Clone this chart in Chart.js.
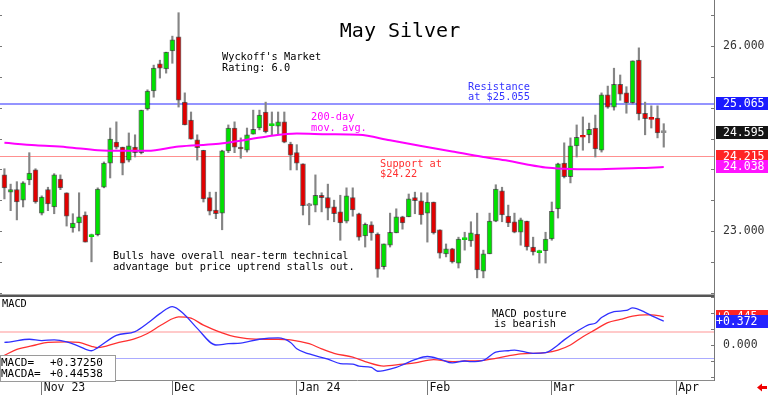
<!DOCTYPE html>
<html><head><meta charset="utf-8">
<script src="https://cdn.jsdelivr.net/npm/chart.js@4/dist/chart.umd.min.js"></script>
<style>html,body{margin:0;padding:0;background:#fff;overflow:hidden}</style>
</head><body>
<canvas id="c" width="768" height="395"></canvas>
<script>
// ---- data ----
const opens  = [23.91,23.63,23.67,23.50,23.83,23.99,23.29,23.67,23.39,23.84,23.62,23.05,23.13,23.26,22.91,22.94,23.71,24.10,24.44,24.36,
24.15,24.36,24.27,24.98,25.27,25.71,25.63,25.92,26.15,25.09,24.80,24.48,24.31,23.54,23.34,23.29,24.30,24.67,24.36,24.31,
24.57,24.67,24.93,24.71,24.70,24.77,24.41,24.27,24.09,23.41,23.42,23.58,23.54,23.39,23.31,23.16,23.54,23.28,22.92,23.10,
22.95,22.42,22.77,22.97,23.23,23.23,23.54,23.49,23.29,23.47,23.02,22.63,22.71,22.48,22.86,22.84,22.95,22.35,22.63,23.16,
23.65,23.24,23.15,22.98,23.16,22.74,22.65,22.68,22.87,23.36,24.10,23.88,24.38,24.54,24.56,24.67,24.31,25.21,25.01,25.38,
25.24,25.08,25.77,24.91,24.83,24.83,24.595];
const highs  = [24.01,23.76,23.80,23.80,24.27,24.01,23.57,23.71,23.93,23.91,23.62,23.28,23.62,23.31,22.95,23.70,24.12,24.67,24.77,24.36,
24.59,24.56,24.96,25.29,25.69,25.77,25.90,26.16,26.54,25.24,24.93,24.56,24.31,23.63,23.63,24.31,24.72,24.77,24.51,24.67,
24.96,24.96,25.09,24.93,24.93,24.93,24.44,24.40,24.09,23.45,23.91,23.62,23.76,23.50,23.58,23.70,23.70,23.29,23.13,23.15,
22.97,22.79,23.29,23.36,23.24,23.60,23.63,23.62,23.62,23.47,23.02,22.79,22.72,22.90,22.98,23.15,23.29,22.69,23.29,23.75,
23.71,23.42,23.29,23.21,23.16,22.90,22.69,22.98,23.47,24.10,24.43,24.51,24.72,24.85,24.75,24.88,25.24,25.35,25.64,25.53,
25.34,25.76,25.97,25.09,25.03,25.03,24.74];
const lows   = [23.52,23.33,23.18,23.39,23.75,23.45,23.26,23.33,23.28,23.67,23.08,22.98,23.00,22.82,22.50,22.92,23.70,23.86,24.33,23.91,
24.12,24.20,24.25,24.96,25.17,25.48,25.56,25.72,25.01,24.72,24.49,24.15,23.47,23.26,23.20,23.02,24.27,24.27,24.18,24.28,
24.57,24.64,24.59,24.56,24.57,24.43,23.99,23.99,23.26,23.10,23.31,23.31,23.18,23.15,22.85,23.13,23.24,22.85,22.74,22.85,
22.25,22.38,22.74,22.97,23.03,23.23,23.28,23.11,22.82,22.95,22.56,22.58,22.48,22.40,22.69,22.75,22.24,22.24,22.63,23.15,
23.15,23.07,22.97,22.77,22.69,22.61,22.48,22.48,22.85,23.21,23.86,23.78,24.20,24.31,24.43,24.20,24.28,24.99,24.96,25.12,
24.91,25.06,24.80,24.56,24.67,24.51,24.36];
const closes = [23.70,23.67,23.47,23.78,23.94,23.47,23.55,23.44,23.91,23.70,23.24,23.13,23.23,22.82,22.93,23.68,24.10,24.49,24.36,24.10,
24.38,24.27,24.96,25.27,25.64,25.64,25.90,26.10,25.12,24.72,24.49,24.35,23.52,23.32,23.28,24.30,24.67,24.36,24.33,24.56,
24.65,24.88,24.61,24.73,24.77,24.44,24.23,24.10,23.41,23.41,23.58,23.54,23.37,23.28,23.13,23.57,23.34,22.90,23.11,22.97,
22.38,22.79,22.98,23.23,23.13,23.52,23.49,23.26,23.47,22.97,22.64,22.71,22.50,22.87,22.88,22.97,22.37,22.63,23.16,23.68,
23.26,23.13,22.98,23.18,22.74,22.66,22.67,22.87,23.32,24.09,23.88,24.38,24.52,24.52,24.65,24.33,25.21,25.01,25.38,25.22,
25.08,25.76,24.90,24.82,24.81,24.59,24.595];

// 200-day moving average (candle index, value)
const maIdx = [0,5,10,15,19,23,28,34,37,42,47,52,57,62,67,72,77,81,84,87,90,94,98,102,106];
const maVal = [24.43,24.39,24.36,24.31,24.30,24.30,24.37,24.41,24.45,24.53,24.58,24.57,24.56,24.47,24.38,24.29,24.20,24.14,24.08,24.03,24.01,24.00,24.01,24.02,24.038];

// MACD (blue) and MACDA (red)
const macdIdx = [0,1,4,6,8,10,12,14,15,18,21,23,25,27,29,31,34,36,38,41,44,46,47,49,52,54,56,57,59,60,61,63,64,66,68,70,72,74,75,77,79,81,82,85,87,89,90,92,94,95,96,98,100,101,103,104,106];
const macdVal = [0.04,0.05,0.09,0.07,0.08,0.05,-0.02,-0.09,-0.04,0.15,0.21,0.34,0.49,0.60,0.47,0.26,0.00,0.02,0.03,0.09,0.11,0.04,-0.06,-0.14,-0.22,-0.29,-0.30,-0.33,-0.35,-0.41,-0.40,-0.35,-0.31,-0.23,-0.18,-0.22,-0.28,-0.25,-0.26,-0.24,-0.11,-0.09,-0.08,-0.13,-0.12,0.00,0.08,0.21,0.32,0.34,0.43,0.52,0.54,0.58,0.51,0.46,0.3725];
const sigIdx = [0,2,5,7,10,12,14,15,18,21,23,25,27,28,30,32,35,37,39,42,44,46,49,51,53,56,58,61,64,66,69,72,74,77,79,81,83,87,89,91,93,95,97,99,101,103,104,106];
const sigVal = [-0.16,-0.07,0.00,0.04,0.05,0.04,-0.02,-0.04,0.03,0.10,0.18,0.30,0.41,0.44,0.42,0.31,0.19,0.13,0.10,0.09,0.09,0.08,0.02,-0.06,-0.13,-0.19,-0.26,-0.33,-0.30,-0.28,-0.23,-0.26,-0.25,-0.24,-0.21,-0.17,-0.14,-0.12,-0.08,0.00,0.13,0.24,0.35,0.40,0.45,0.47,0.47,0.445];

// levels & labels
const resistanceLevel = 25.065;
const supportLevel = 24.215;
const lastClose = 24.595;
const lastMA = 24.038;
const macdUpper = 0.2, macdLower = -0.2;
const lastMACD = 0.37250, lastMACDA = 0.44538;
const monthTickIdx = [6, 27, 47, 68, 88, 108];
const monthTickLabels = ['Nov 23', 'Dec', 'Jan 24', 'Feb', 'Mar', 'Apr'];
const priceLabelValues = [23, 26];

// ---- chart ----
const MONO = 'DejaVu Sans Mono';
const up = '#00E000', down = '#E00000', flat = '#8C8C8C';
const bodyColor = opens.map((o, i) => closes[i] > o ? up : (closes[i] < o ? down : flat));

const deco = {
  id: 'deco',
  beforeDatasetsDraw(chart) {
    const {ctx, chartArea: ca, scales: {y, y2}} = chart;
    ctx.save();
    const hl = (scale, v, color, w) => {
      const py = Math.round(scale.getPixelForValue(v)) + (w % 2 ? 0.5 : 0);
      ctx.strokeStyle = color; ctx.lineWidth = w;
      ctx.beginPath(); ctx.moveTo(ca.left, py); ctx.lineTo(ca.right, py); ctx.stroke();
    };
    hl(y, resistanceLevel, '#9494FF', 2);
    hl(y, supportLevel, '#FF9090', 1);
    hl(y2, macdUpper, '#FFCACA', 2);
    hl(y2, macdLower, '#ABABFF', 1);
    ctx.restore();
  },
  afterDraw(chart) {
    const {ctx, chartArea: ca, scales: {y, y2}} = chart;
    ctx.save();
    // panel separator
    ctx.fillStyle = '#555';
    ctx.fillRect(ca.left, y.bottom - 1.5, ca.right - ca.left, 2.5);
    // inner tick dashes on right axis and left edge
    ctx.strokeStyle = '#777'; ctx.lineWidth = 1;
    [y, y2].forEach(s => s.ticks.forEach(t => {
      const py = Math.round(s.getPixelForValue(t.value)) + 0.5;
      ctx.beginPath(); ctx.moveTo(ca.right - 3, py); ctx.lineTo(ca.right, py); ctx.stroke();
      if (s === y) { ctx.beginPath(); ctx.moveTo(0, py); ctx.lineTo(2, py); ctx.stroke(); }
    }));
    // title
    ctx.fillStyle = '#000';
    ctx.font = '20px "' + MONO + '"';
    ctx.textAlign = 'center'; ctx.textBaseline = 'alphabetic';
    ctx.fillText('May Silver', 400, 37);
    ctx.textAlign = 'left';
    const f = '10.3px "' + MONO + '"';
    const t = (s, x, yy, c) => { ctx.fillStyle = c; ctx.font = f; ctx.fillText(s, x, yy); };
    t("Wyckoff's Market", 222, 60, '#000');
    t('Rating: 6.0', 222, 71, '#000');
    t('Resistance', 468, 90, '#3434FF');
    t('at $25.055', 468, 100, '#3434FF');
    t('200-day', 311, 120, '#FF00FF');
    t('mov. avg.', 311, 131, '#FF00FF');
    t('Support at', 380, 167, '#FF3030');
    t('$24.22', 380, 177, '#FF3030');
    t('Bulls have overall near-term technical', 113, 259, '#000');
    t('advantage but price uptrend stalls out.', 113, 270, '#000');
    t('MACD posture', 492, 317, '#000');
    t('is bearish', 494, 327, '#000');
    t('MACD', 2, 307, '#000');
    // value boxes on right axis
    const box = (scale, v, bg, label, tx) => {
      const py = scale.getPixelForValue(v);
      ctx.fillStyle = bg; ctx.fillRect(ca.right + 2, Math.round(py - 6.5), 768 - ca.right - 2, 13);
      ctx.fillStyle = '#fff'; ctx.font = '11.5px "' + MONO + '"'; ctx.textBaseline = 'middle';
      ctx.fillText(label, tx, py + 0.5);
      ctx.textBaseline = 'alphabetic';
    };
    box(y, resistanceLevel, '#1A1AFF', resistanceLevel.toFixed(3), 723);
    box(y, lastClose, '#141414', lastClose.toFixed(3), 723);
    box(y, supportLevel, '#FF2424', supportLevel.toFixed(3), 723);
    box(y, lastMA, '#FF14FF', lastMA.toFixed(3), 723);
    box(y2, lastMACDA, '#FF2424', '+' + lastMACDA.toFixed(3), 716);
    box(y2, lastMACD, '#2424FF', '+' + lastMACD.toFixed(3), 716);
    // MACD value legend
    ctx.fillStyle = '#fff'; ctx.fillRect(0, 355, 115, 26);
    ctx.strokeStyle = '#9a9a9a'; ctx.lineWidth = 1; ctx.strokeRect(0.5, 355.5, 115, 26);
    ctx.fillStyle = '#000'; ctx.font = '11px "' + MONO + '"';
    ctx.fillText('MACD=', 1, 365.5); ctx.fillText('+' + lastMACD.toFixed(5), 50, 365.5);
    ctx.fillText('MACDA=', 1, 377); ctx.fillText('+' + lastMACDA.toFixed(5), 50, 377);
    // red arrow bottom right
    ctx.fillStyle = '#F00000';
    ctx.beginPath(); ctx.moveTo(757, 387.5); ctx.lineTo(762, 383.5); ctx.lineTo(762, 391.5); ctx.closePath(); ctx.fill();
    ctx.fillRect(761, 386, 6, 3);
    ctx.restore();
  }
};

const noPadV = s => { s.width = 54; s.paddingTop = 0; s.paddingBottom = 0; };

new Chart(document.getElementById('c'), {
  type: 'bar',
  data: {
    datasets: [
      { type: 'line', data: maIdx.map((x, k) => ({x, y: maVal[k]})), yAxisID: 'y', borderColor: '#FF00FF', borderWidth: 2,
        pointRadius: 0, cubicInterpolationMode: 'monotone', order: 0 },
      { data: opens.map((o, i) => ({x: i, y: [o, closes[i]]})), yAxisID: 'y', backgroundColor: bodyColor,
        borderColor: opens.map((o, i) => Math.abs(o - closes[i]) < 0.03 ? bodyColor[i] : 'rgba(0,0,0,0.55)'),
        borderWidth: 1, borderSkipped: false, barThickness: 5, minBarLength: 2, grouped: false, order: 1 },
      { data: highs.map((h, i) => ({x: i, y: [lows[i], h]})), yAxisID: 'y', backgroundColor: '#858585',
        barThickness: 1.5, grouped: false, order: 2 },
      { type: 'line', data: macdIdx.map((x, k) => ({x, y: macdVal[k]})), yAxisID: 'y2', borderColor: '#3030FF', borderWidth: 1.3,
        pointRadius: 0, cubicInterpolationMode: 'monotone', order: 0 },
      { type: 'line', data: sigIdx.map((x, k) => ({x, y: sigVal[k]})), yAxisID: 'y2', borderColor: '#FF3030', borderWidth: 1.3,
        pointRadius: 0, cubicInterpolationMode: 'monotone', order: 0 }
    ]
  },
  options: {
    responsive: false, animation: false, devicePixelRatio: 1,
    layout: { padding: 0 },
    plugins: { legend: { display: false }, tooltip: { enabled: false } },
    scales: {
      x: {
        type: 'linear', position: 'bottom', min: -0.71, max: 114.08, offset: false,
        afterBuildTicks: s => { s.ticks = monthTickIdx.map(v => ({value: v})); },
        afterFit: s => { s.height = 15; s.paddingLeft = 0; s.paddingRight = 0; },
        ticks: {
          autoSkip: false, maxRotation: 0, align: 'start', labelOffset: 2, padding: -14,
          font: { family: MONO, size: 11.5 }, color: '#111',
          callback: v => { const k = monthTickIdx.indexOf(v); return k >= 0 ? monthTickLabels[k] : null; }
        },
        grid: { drawOnChartArea: false, offset: false, tickLength: 15, color: '#777' },
        border: { display: true, color: '#8a8a8a' }
      },
      y: {
        type: 'linear', position: 'right', stack: 'panels', stackWeight: 296, min: 21.946, max: 26.746,
        afterBuildTicks: s => { const a = []; for (let v = 22; v <= 26.5; v += 0.5) a.push({value: v}); s.ticks = a; },
        afterFit: noPadV,
        ticks: {
          autoSkip: false, padding: 9, font: { family: MONO, size: 11.5 }, color: '#333',
          callback: v => priceLabelValues.some(p => Math.abs(p - v) < 1e-6) ? v.toFixed(3) : ''
        },
        grid: { display: false, drawTicks: false, tickLength: 0 },
        border: { display: true, color: '#777' }
      },
      y2: {
        type: 'linear', position: 'right', stack: 'panels', stackWeight: 84, min: -0.547, max: 0.766,
        afterBuildTicks: s => { s.ticks = [-0.5, -0.25, 0, 0.25, 0.5, 0.75].map(v => ({value: v})); },
        afterFit: noPadV,
        ticks: {
          autoSkip: false, padding: 9, font: { family: MONO, size: 11.5 }, color: '#333',
          callback: v => Math.abs(v) < 1e-9 ? '0.000' : ''
        },
        grid: { display: false, drawTicks: false, tickLength: 0 },
        border: { display: true, color: '#777' }
      }
    }
  },
  plugins: [deco]
});
</script>
</body></html>
